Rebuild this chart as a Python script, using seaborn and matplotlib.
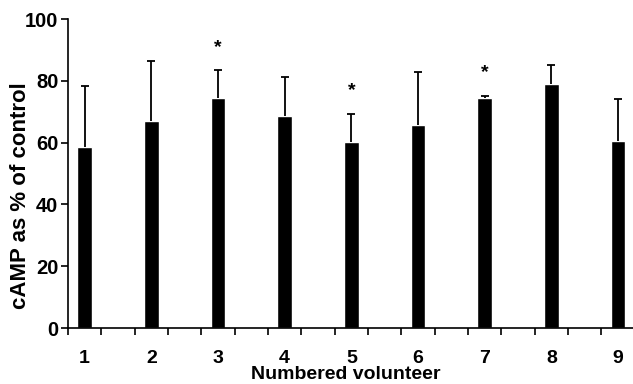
import pandas as pd
import seaborn as sns
import matplotlib.pyplot as plt
from matplotlib.ticker import FixedLocator

# Values
volunteers = ["1", "2", "3", "4", "5", "6", "7", "8", "9"]
camp_pct = [58.6, 67.0, 74.3, 68.7, 60.1, 65.7, 74.5, 79.1, 60.5]
sem_upper = [19.8, 19.4, 9.1, 12.5, 9.3, 17.0, 0.6, 5.9, 13.5]
significant = [False, False, True, False, True, False, True, False, False]

df = pd.DataFrame({"volunteer": volunteers, "camp": camp_pct, "err": sem_upper})

sns.set_style("ticks")
plt.rcParams["font.family"] = ["Liberation Sans", "DejaVu Sans"]
plt.rcParams["font.weight"] = "bold"
plt.rcParams["text.color"] = "black"
plt.rcParams["axes.labelcolor"] = "black"
plt.rcParams["xtick.color"] = "black"
plt.rcParams["ytick.color"] = "black"

fig = plt.figure(figsize=(6.33, 3.84), dpi=100)
ax = fig.add_axes([0.1074, 0.1458, 0.8952, 0.8047])

sns.barplot(data=df, x="volunteer", y="camp", color="black", width=0.22,
            saturation=1, errorbar=None, ax=ax)

# upper-only error bars
pos = range(len(volunteers))
eb = ax.errorbar(pos, df["camp"], yerr=[[0] * len(df), df["err"]], fmt="none",
                 ecolor="black", elinewidth=1.3, capsize=3, capthick=1.3)
eb[1][0].set_visible(False)

# significance stars
for i, (v, e, s) in enumerate(zip(df["camp"], df["err"], significant)):
    if s:
        ax.text(i, v + e + 7.5, "*", ha="center", va="center", fontsize=14,
                fontweight="bold")

ax.set_xlim(-0.25, 8.25)
ax.set_ylim(0, 100)
ax.set_yticks([0, 20, 40, 60, 80, 100])
ax.xaxis.set_minor_locator(FixedLocator([k * 0.5 - 0.25 for k in range(18)]))
ax.tick_params(axis="x", which="major", length=0, pad=16, labelsize=14)
ax.tick_params(axis="x", which="minor", length=5, width=1.2, direction="out")
ax.tick_params(axis="y", length=5, width=1.2, labelsize=14.5, pad=2)
for lab in ax.get_xticklabels() + ax.get_yticklabels():
    lab.set_fontweight("bold")

ax.set_xlabel("Numbered volunteer", fontsize=14, fontweight="bold")
ax.xaxis.label.set_va("bottom")
ax.xaxis.set_label_coords(0.49, -0.178)
ax.set_ylabel("cAMP as % of control", fontsize=16, fontweight="bold")
ax.yaxis.label.set_va("center")
ax.yaxis.set_label_coords(-0.084, 0.43)

for side in ["top", "right"]:
    ax.spines[side].set_visible(False)
for side in ["left", "bottom"]:
    ax.spines[side].set_linewidth(1.2)
    ax.spines[side].set_color("black")

fig.savefig("out.png", dpi=100)
